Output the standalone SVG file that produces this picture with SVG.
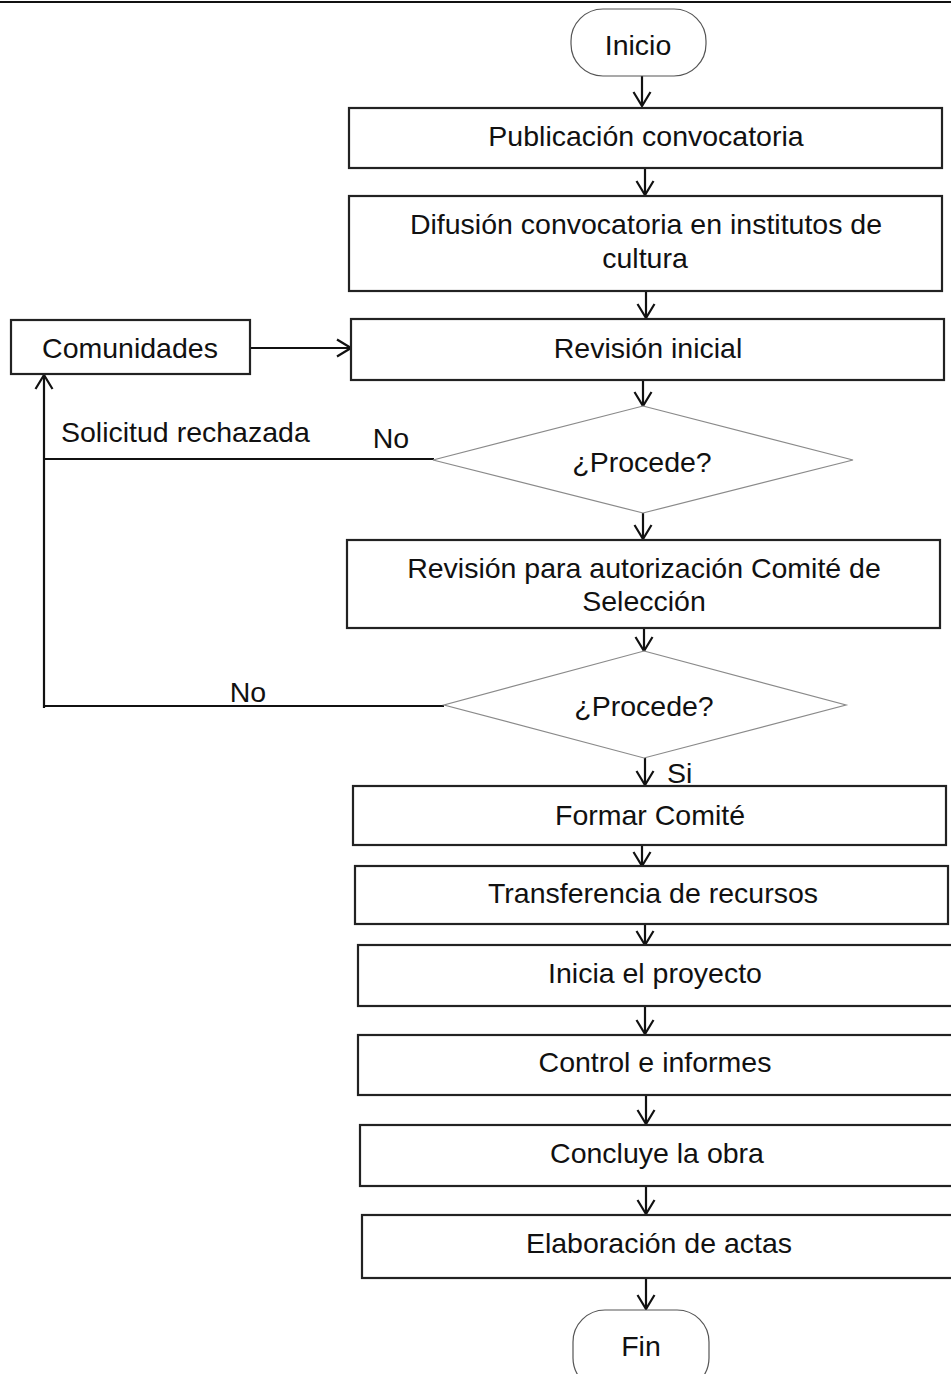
<svg xmlns="http://www.w3.org/2000/svg" width="951" height="1374" viewBox="0 0 951 1374">
<style>
  text { font-family: "Liberation Sans", Arial, sans-serif; font-size: 28.5px; fill: #111; }
  .c { text-anchor: middle; }
  .box { fill: #fff; stroke: #222; stroke-width: 2.2; }
  .term { fill: #fff; stroke: #555; stroke-width: 1.2; }
  .dia { fill: #fff; stroke: #8a8a8a; stroke-width: 1.2; }
  .ln { fill: none; stroke: #111; stroke-width: 2.2; }
</style>
<defs>
  <marker id="arr" viewBox="0 0 16 20" refX="15" refY="10" markerWidth="16" markerHeight="20" markerUnits="userSpaceOnUse" orient="auto">
    <path d="M1,1.5 L15,10 L1,18.5" fill="none" stroke="#111" stroke-width="2.2"/>
  </marker>
</defs>
<rect width="951" height="1374" fill="#fff"/>
<line x1="0" y1="2" x2="951" y2="2" stroke="#111" stroke-width="2"/>

<g id="connectors">
  <line class="ln" x1="642" y1="76" x2="642" y2="106" marker-end="url(#arr)"/>
  <line class="ln" x1="645" y1="168" x2="645" y2="195" marker-end="url(#arr)"/>
  <line class="ln" x1="646" y1="291" x2="646" y2="318" marker-end="url(#arr)"/>
  <line class="ln" x1="250" y1="348" x2="351" y2="348" marker-end="url(#arr)"/>
  <line class="ln" x1="643" y1="380" x2="643" y2="406" marker-end="url(#arr)"/>
  <line class="ln" x1="643" y1="513" x2="643" y2="539" marker-end="url(#arr)"/>
  <line class="ln" x1="644" y1="628" x2="644" y2="651" marker-end="url(#arr)"/>
  <line class="ln" x1="645" y1="758" x2="645" y2="785" marker-end="url(#arr)"/>
  <line class="ln" x1="642" y1="845" x2="642" y2="866" marker-end="url(#arr)"/>
  <line class="ln" x1="645" y1="924" x2="645" y2="945" marker-end="url(#arr)"/>
  <line class="ln" x1="645" y1="1006" x2="645" y2="1034" marker-end="url(#arr)"/>
  <line class="ln" x1="646" y1="1095" x2="646" y2="1124" marker-end="url(#arr)"/>
  <line class="ln" x1="646" y1="1186" x2="646" y2="1214" marker-end="url(#arr)"/>
  <line class="ln" x1="646" y1="1278" x2="646" y2="1309" marker-end="url(#arr)"/>
  <line class="ln" x1="434" y1="459" x2="44" y2="459"/>
  <line class="ln" x1="444" y1="706" x2="44" y2="706" stroke-width="3"/>
  <line class="ln" x1="44" y1="708" x2="44" y2="375" marker-end="url(#arr)"/>
  <text x="61" y="442">Solicitud rechazada</text>
  <text x="391" y="448" class="c">No</text>
  <text x="248" y="702" class="c">No</text>
  <text x="667" y="783">Si</text>
</g>

<g id="inicio">
  <rect class="term" x="571" y="9" width="135" height="67" rx="32" ry="32"/>
  <text x="638" y="55" class="c">Inicio</text>
</g>
<g id="publicacion">
  <rect class="box" x="349" y="108" width="593" height="60"/>
  <text x="646" y="146" class="c">Publicación convocatoria</text>
</g>
<g id="difusion">
  <rect class="box" x="349" y="196" width="593" height="95"/>
  <text x="646" y="234" class="c">Difusión convocatoria en institutos de</text>
  <text x="645" y="268" class="c">cultura</text>
</g>
<g id="comunidades">
  <rect class="box" x="11" y="320" width="239" height="54"/>
  <text x="130" y="358" class="c">Comunidades</text>
</g>
<g id="revision-inicial">
  <rect class="box" x="351" y="319" width="593" height="61"/>
  <text x="648" y="358" class="c">Revisión inicial</text>
</g>
<g id="procede1">
  <polygon class="dia" points="643,406 853,460 643,513 433,460"/>
  <text x="642" y="472" class="c">¿Procede?</text>
</g>
<g id="revision-autorizacion">
  <rect class="box" x="347" y="540" width="593" height="88"/>
  <text x="644" y="578" class="c">Revisión para autorización Comité de</text>
  <text x="644" y="611" class="c">Selección</text>
</g>
<g id="procede2">
  <polygon class="dia" points="644,651 846,705 644,758 444,705"/>
  <text x="644" y="716" class="c">¿Procede?</text>
</g>
<g id="formar-comite">
  <rect class="box" x="353" y="786" width="593" height="59"/>
  <text x="650" y="825" class="c">Formar Comité</text>
</g>
<g id="transferencia">
  <rect class="box" x="355" y="866" width="593" height="58"/>
  <text x="653" y="903" class="c">Transferencia de recursos</text>
</g>
<g id="inicia">
  <rect class="box" x="358" y="945" width="600" height="61"/>
  <text x="655" y="983" class="c">Inicia el proyecto</text>
</g>
<g id="control">
  <rect class="box" x="358" y="1035" width="600" height="60"/>
  <text x="655" y="1072" class="c">Control e informes</text>
</g>
<g id="concluye">
  <rect class="box" x="360" y="1125" width="600" height="61"/>
  <text x="657" y="1163" class="c">Concluye la obra</text>
</g>
<g id="actas">
  <rect class="box" x="362" y="1215" width="600" height="63"/>
  <text x="659" y="1253" class="c">Elaboración de actas</text>
</g>
<g id="fin">
  <rect class="term" x="573" y="1310" width="136" height="80" rx="32" ry="32"/>
  <text x="641" y="1356" class="c">Fin</text>
</g>
</svg>
